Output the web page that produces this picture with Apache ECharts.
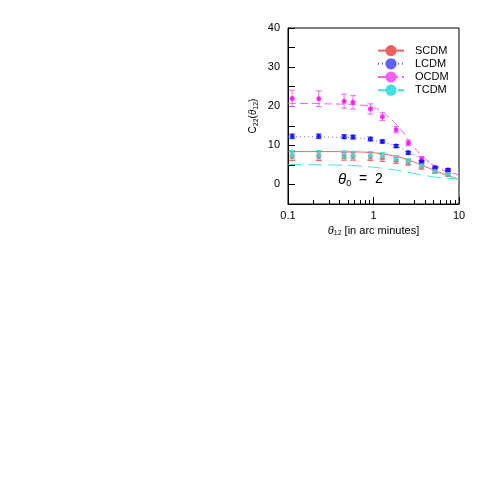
<!DOCTYPE html>
<html><head><meta charset="utf-8">
<script src="https://cdn.jsdelivr.net/npm/echarts@6/dist/echarts.min.js"></script>
<style>html,body{margin:0;background:#fff}#c{width:485px;height:485px}</style>
</head><body><div id="c"></div>
<script>
const theta = [0.112, 0.229, 0.453, 0.576, 0.92, 1.27, 1.84, 2.55, 3.65, 5.24, 7.43]
const ocdmPts = [22.0, 21.9, 21.3, 21.0, 19.3, 17.3, 14.0, 10.6, 6.5, 4.2, 3.6]
const ocdmErr = [2.1, 2.0, 1.8, 1.7, 1.3, 1.0, 0.8, 0.7, 0.6, 0.5, 0.5]
const lcdmPts = [12.3, 12.3, 12.2, 12.1, 11.6, 11.0, 9.8, 8.1, 5.8, 4.3, 3.7]
const lcdmErr = [0.6, 0.6, 0.5, 0.5, 0.5, 0.4, 0.4, 0.4, 0.3, 0.3, 0.3]
const scdmPts = [7.2, 7.2, 7.2, 7.2, 7.1, 6.8, 6.2, 5.6, 4.5, 3.3, 2.5]
const tcdmPts = [7.6, 7.6, 7.6, 7.5, 7.4, 7.3, 6.6, 5.9, 4.8, 3.4, 2.6]
const smallErr = [1.1, 1.1, 1.0, 1.0, 1.0, 0.9, 0.8, 0.7, 0.6, 0.5, 0.4]

const curveX = [0.1, 0.2, 0.3, 0.5, 0.7, 1, 1.4, 2, 3, 4, 6, 8, 10]
const scdmCurve = [8.4, 8.4, 8.4, 8.35, 8.3, 8.1, 7.7, 7.0, 5.7, 4.6, 3.0, 2.0, 1.3]
const lcdmCurve = [12.2, 12.2, 12.1, 12.0, 11.8, 11.3, 10.6, 9.5, 7.6, 6.1, 4.2, 3.0, 2.3]
const ocdmCurve = [20.7, 20.7, 20.6, 20.5, 20.3, 19.7, 17.8, 14.5, 9.5, 6.6, 4.0, 3.0, 2.5]
const tcdmCurve = [5.1, 5.05, 5.0, 4.9, 4.7, 4.4, 4.0, 3.5, 2.8, 2.3, 1.7, 1.5, 1.4]

const zip = (xs, ys) => xs.map((x, i) => [x, ys[i]])
const errData = (ys, es) => theta.map((x, i) => [x, ys[i] - es[i], ys[i] + es[i]])

function errSeries(ys, es, color) {
  return {
    type: 'custom', silent: true, z: 3,
    data: errData(ys, es),
    renderItem: (params, api) => {
      const lo = api.coord([api.value(0), api.value(1)])
      const hi = api.coord([api.value(0), api.value(2)])
      const w = 3
      const st = { stroke: color, lineWidth: 1 }
      return { type: 'group', children: [
        { type: 'line', shape: { x1: lo[0], y1: lo[1], x2: hi[0], y2: hi[1] }, style: st },
        { type: 'line', shape: { x1: lo[0] - w, y1: lo[1], x2: lo[0] + w, y2: lo[1] }, style: st },
        { type: 'line', shape: { x1: hi[0] - w, y1: hi[1], x2: hi[0] + w, y2: hi[1] }, style: st }
      ] }
    }
  }
}
function pts(ys, color) {
  return { type: 'scatter', data: zip(theta, ys), symbolSize: 5, itemStyle: { color: color }, z: 4 }
}
function curve(name, ys, color, dash) {
  return { name: name, type: 'line', data: zip(curveX, ys), smooth: 0.4, showSymbol: false, symbol: 'none',
    lineStyle: { color: color, width: 1, type: dash }, itemStyle: { color: color }, z: 2 }
}

const chart = echarts.init(document.getElementById('c'))
chart.setOption({
  animation: false,
  grid: { left: 288, right: 26, top: 28, bottom: 281 },
  legend: {
    data: ['SCDM', 'LCDM', 'OCDM', 'TCDM'], orient: 'vertical', left: 372, top: 40,
    itemWidth: 26, itemGap: 2,
    textStyle: { fontFamily: 'Liberation Sans', fontSize: 11, color: '#000', padding: [0, 0, 0, 6] }
  },
  xAxis: {
    type: 'log', min: 0.1, max: 10, logBase: 10,
    name: '{i|θ}{s|12} [in arc minutes]', nameLocation: 'middle', nameGap: 20,
    nameTextStyle: { fontFamily: 'Liberation Sans', fontSize: 11, color: '#000',
      rich: { i: { fontStyle: 'italic', fontSize: 11 }, s: { fontSize: 7, verticalAlign: 'bottom', padding: [6, 0, 0, 0] } } },
    axisLine: { onZero: false, lineStyle: { color: '#000' } },
    axisTick: { inside: true, length: 7, lineStyle: { color: '#000' } },
    minorTick: { show: true, splitNumber: 9, length: 4, lineStyle: { color: '#000' } },
    axisLabel: { color: '#000', fontFamily: 'Liberation Sans', fontSize: 11, margin: 6 },
    splitLine: { show: false }
  },
  yAxis: {
    type: 'value', min: -5, max: 40, interval: 5,
    name: 'C{s|22}({i|θ}{s|12})', nameLocation: 'middle', nameGap: 28,
    nameTextStyle: { fontFamily: 'Liberation Sans', fontSize: 10, color: '#000',
      rich: { i: { fontStyle: 'italic', fontSize: 10 }, s: { fontSize: 7, verticalAlign: 'bottom', padding: [6, 0, 0, 0] } } },
    axisLine: { onZero: false, lineStyle: { color: '#000' } },
    axisTick: { inside: true, length: 7, lineStyle: { color: '#000' } },
    axisLabel: { color: '#000', fontFamily: 'Liberation Sans', fontSize: 11,
      formatter: v => (v % 10 === 0 ? String(v) : '') },
    splitLine: { show: false }
  },
  graphic: [
    { type: 'rect', shape: { x: 288, y: 28, width: 171, height: 176 }, style: { fill: 'none', stroke: '#000', lineWidth: 1 }, silent: true },
    { type: 'text', left: 338, top: 172, style: { text: '{i|θ}{s|0}  =  2', fill: '#000', font: '14px Liberation Sans',
      rich: { i: { fontStyle: 'italic', fontSize: 15 }, s: { fontSize: 9, verticalAlign: 'bottom', padding: [8, 0, 0, 0] } } } }
  ],
  series: [
    curve('SCDM', scdmCurve, '#f06060', 'solid'),
    curve('LCDM', lcdmCurve, '#6060ff', [1, 3]),
    curve('OCDM', ocdmCurve, '#f060f0', [8, 4]),
    curve('TCDM', tcdmCurve, '#40e0e0', [14, 6]),
    errSeries(scdmPts, smallErr, '#f06060'),
    pts(scdmPts, '#e06060'),
    errSeries(ocdmPts, ocdmErr, '#f060f0'),
    pts(ocdmPts, '#ff00ff'),
    errSeries(lcdmPts, lcdmErr, '#4040ff'),
    pts(lcdmPts, '#0000ff'),
    errSeries(tcdmPts, smallErr, '#40e0e0'),
    pts(tcdmPts, '#40d8d8')
  ]
})
</script></body></html>
